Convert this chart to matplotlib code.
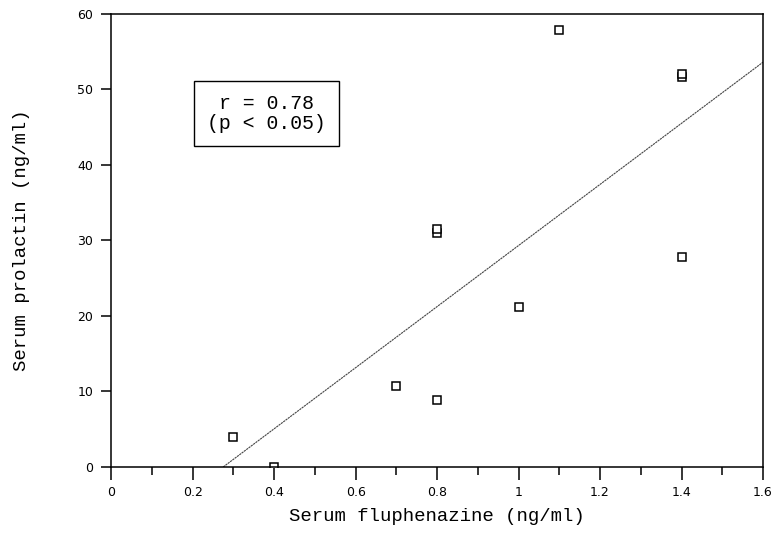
import numpy as np
import matplotlib.pyplot as plt
from matplotlib.ticker import MultipleLocator

# values
fluphenazine = [0.3, 0.4, 0.7, 0.8, 0.8, 0.8, 1.0, 1.1, 1.4, 1.4, 1.4]
prolactin = [4.0, 0.0, 10.7, 8.9, 31.0, 31.5, 21.2, 57.9, 51.6, 52.0, 27.8]

# regression line endpoints
fit_x = [0.275, 1.6]
fit_y = [0.0, 53.6]

x_ticks = [0, 0.2, 0.4, 0.6, 0.8, 1.0, 1.2, 1.4, 1.6]
x_labels = ['0', '0.2', '0.4', '0.6', '0.8', '1', '1.2', '1.4', '1.6']
y_ticks = [0, 10, 20, 30, 40, 50, 60]

mono = 'Liberation Mono'

fig = plt.figure(figsize=(7.77, 5.54), dpi=100)
ax = fig.add_axes([0.143, 0.157, 0.839, 0.818])

ax.plot(fit_x, fit_y, color='#444444', linewidth=0.8, linestyle=(0, (2, 0.6)))
ax.plot(fluphenazine, prolactin, linestyle='none', marker='s', markersize=6,
        markerfacecolor='white', markeredgecolor='black', markeredgewidth=1.1)

ax.set_xlim(0, 1.6)
ax.set_ylim(0, 60)
ax.set_xticks(x_ticks)
ax.set_xticklabels(x_labels)
ax.set_yticks(y_ticks)
ax.xaxis.set_minor_locator(MultipleLocator(0.1))

for sp in ax.spines.values():
    sp.set_linewidth(1.1)

ax.tick_params(axis='x', which='major', direction='out', length=9, width=1.1,
               labelsize=9, pad=5)
ax.tick_params(axis='x', which='minor', direction='out', length=6, width=1.1)
ax.tick_params(axis='y', direction='out', length=7, width=1.1, labelsize=9, pad=6)

ax.set_xlabel('Serum fluphenazine (ng/ml)', fontfamily=mono, fontsize=13.7, labelpad=6)
ax.set_ylabel('Serum prolactin (ng/ml)', fontfamily=mono, fontsize=13.7, labelpad=34)

ax.text(0.2385, 0.78, 'r = 0.78\n(p < 0.05)', transform=ax.transAxes,
        ha='center', va='center', fontfamily=mono, fontsize=14.3, linespacing=1.05,
        bbox=dict(boxstyle='square,pad=0.68', facecolor='white',
                  edgecolor='black', linewidth=1.0))

fig.savefig('out.png', dpi=100)
